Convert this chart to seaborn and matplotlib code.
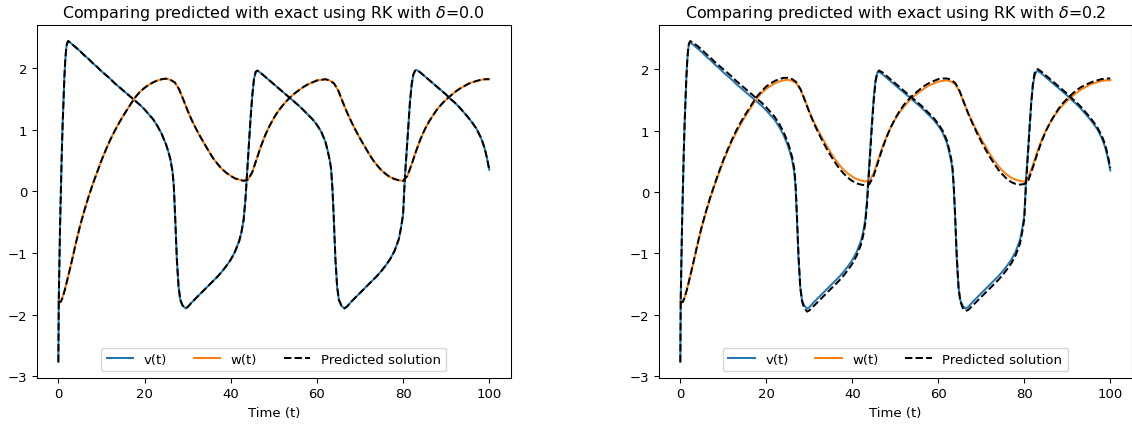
import matplotlib
matplotlib.use("Agg")
import matplotlib.pyplot as plt
import seaborn as sns

# ---------------- data ----------------
t_v = [0, 0.1, 0.25, 0.4, 0.6, 0.8, 1.0, 1.2, 1.4, 1.6, 1.8, 2.0, 2.3,
       3, 4, 5, 6, 7, 8, 9, 10, 11, 12, 13, 14, 15, 16, 17, 18, 19, 20, 21, 22, 23, 24, 25, 25.5, 26, 26.5,
       26.8, 27.1, 27.5, 27.9, 28.3, 28.8, 29.5,
       30, 31, 32, 33, 34, 35, 36, 37, 38, 39, 40, 41, 42, 42.5, 43,
       43.4, 43.8, 44.2, 44.6, 45.0, 45.4, 45.8, 46.2,
       47, 48, 49, 50, 51, 52, 53, 54, 55, 56, 57, 58, 59, 60, 61, 62, 62.5, 63,
       63.3, 63.6, 63.9, 64.3, 64.7, 65.1, 65.7, 66.4,
       67, 68, 69, 70, 71, 72, 73, 74, 75, 76, 77, 78, 79, 79.5, 80,
       80.4, 80.8, 81.2, 81.6, 82.0, 82.4, 82.8, 83.2,
       84, 85, 86, 87, 88, 89, 90, 91, 92, 93, 94, 95, 96, 97, 98, 98.5, 99, 99.5, 100]

v_exact = [-2.77, -1.75, -1.1, -0.55, 0.05, 0.63, 1.1, 1.5, 1.85, 2.12, 2.3, 2.4, 2.44,
           2.40, 2.34, 2.28, 2.21, 2.15, 2.08, 2.02, 1.95, 1.89, 1.83, 1.76, 1.70, 1.64, 1.58, 1.52,
           1.46, 1.40, 1.33, 1.25, 1.17, 1.06, 0.93, 0.76, 0.65, 0.52, 0.32,
           0.08, -0.40, -1.10, -1.55, -1.76, -1.85, -1.90,
           -1.88, -1.80, -1.73, -1.66, -1.59, -1.52, -1.45, -1.38, -1.30, -1.21, -1.11, -0.98, -0.80, -0.66, -0.46,
           -0.15, 0.30, 0.75, 1.18, 1.55, 1.82, 1.94, 1.96,
           1.92, 1.86, 1.80, 1.74, 1.68, 1.62, 1.56, 1.50, 1.44, 1.38, 1.31, 1.24, 1.17, 1.08, 0.97, 0.80, 0.66, 0.50,
           0.36, 0.05, -0.40, -1.10, -1.55, -1.76, -1.86, -1.90,
           -1.87, -1.79, -1.72, -1.65, -1.58, -1.51, -1.44, -1.37, -1.29, -1.20, -1.10, -0.97, -0.78, -0.60, -0.38,
           0.20, 0.62, 1.06, 1.45, 1.74, 1.90, 1.96, 1.97,
           1.93, 1.87, 1.81, 1.75, 1.69, 1.63, 1.57, 1.50, 1.44, 1.37, 1.29, 1.21, 1.12, 1.02, 0.88, 0.79, 0.68, 0.53, 0.35]

v_pred_d02 = [-2.77, -1.75, -1.1, -0.55, 0.05, 0.63, 1.1, 1.5, 1.85, 2.12, 2.31, 2.42, 2.46,
              2.43, 2.38, 2.32, 2.25, 2.19, 2.12, 2.06, 2.00, 1.94, 1.88, 1.81, 1.75, 1.69, 1.63, 1.57,
              1.51, 1.45, 1.38, 1.30, 1.22, 1.11, 0.98, 0.81, 0.70, 0.57, 0.38,
              0.14, -0.33, -1.05, -1.55, -1.78, -1.89, -1.95,
              -1.93, -1.86, -1.79, -1.72, -1.65, -1.58, -1.51, -1.44, -1.36, -1.27, -1.17, -1.04, -0.86, -0.72, -0.52,
              -0.22, 0.22, 0.68, 1.12, 1.50, 1.80, 1.94, 1.98,
              1.95, 1.89, 1.83, 1.77, 1.71, 1.65, 1.59, 1.53, 1.47, 1.41, 1.34, 1.27, 1.20, 1.11, 1.00, 0.84, 0.70, 0.54,
              0.40, 0.10, -0.35, -1.05, -1.55, -1.78, -1.89, -1.94,
              -1.92, -1.85, -1.78, -1.71, -1.64, -1.57, -1.50, -1.43, -1.35, -1.26, -1.16, -1.03, -0.84, -0.66, -0.44,
              0.12, 0.56, 1.02, 1.44, 1.76, 1.94, 2.00, 2.00,
              1.96, 1.90, 1.84, 1.78, 1.72, 1.66, 1.60, 1.53, 1.47, 1.40, 1.32, 1.24, 1.15, 1.05, 0.92, 0.83, 0.72, 0.57, 0.39]

t_w = [0, 0.3, 0.6, 1, 1.5, 2,
       3, 4, 5, 6, 7, 8, 9, 10, 11, 12, 13, 14, 15, 16, 17, 18, 19, 20, 21, 22,
       23, 24, 25, 26, 27, 28, 29, 30, 31, 32, 33, 34, 35, 36, 37, 38, 39, 40, 41, 42,
       43, 44, 45, 46, 47, 48, 49, 50, 51, 52, 53, 54, 55, 56, 57, 58, 59, 60, 61, 62,
       63, 64, 65, 66, 67, 68, 69, 70, 71, 72, 73, 74, 75, 76, 77, 78, 79, 80, 81, 82,
       83, 84, 85, 86, 87, 88, 89, 90, 91, 92, 93, 94, 95, 96, 97, 98, 99, 100]

w_exact = [-1.78, -1.80, -1.79, -1.72, -1.60, -1.46,
           -1.17, -0.86, -0.57, -0.32, -0.09, 0.12, 0.31, 0.50, 0.67, 0.83, 0.97, 1.10, 1.22, 1.33, 1.44, 1.54, 1.62, 1.68, 1.73, 1.77,
           1.80, 1.82, 1.83, 1.81, 1.77, 1.66, 1.49, 1.31, 1.15, 1.01, 0.88, 0.76, 0.64, 0.53, 0.44, 0.36, 0.30, 0.25, 0.21, 0.19,
           0.17, 0.19, 0.31, 0.52, 0.73, 0.91, 1.06, 1.19, 1.30, 1.39, 1.47, 1.54, 1.60, 1.65, 1.70, 1.74, 1.77, 1.80, 1.81, 1.82,
           1.80, 1.75, 1.63, 1.45, 1.28, 1.13, 0.99, 0.86, 0.74, 0.62, 0.51, 0.42, 0.34, 0.28, 0.23, 0.20, 0.18, 0.17, 0.25, 0.44,
           0.65, 0.84, 1.00, 1.13, 1.24, 1.34, 1.42, 1.49, 1.55, 1.61, 1.66, 1.70, 1.74, 1.77, 1.79, 1.81, 1.82, 1.82]

w_pred_d02 = [-1.78, -1.80, -1.79, -1.72, -1.60, -1.46,
              -1.16, -0.85, -0.56, -0.31, -0.08, 0.13, 0.33, 0.52, 0.69, 0.85, 1.00, 1.13, 1.25, 1.36, 1.47, 1.57, 1.65, 1.72, 1.77, 1.81,
              1.84, 1.86, 1.86, 1.84, 1.79, 1.67, 1.49, 1.30, 1.13, 0.98, 0.84, 0.71, 0.59, 0.48, 0.38, 0.30, 0.23, 0.18, 0.14, 0.12,
              0.11, 0.13, 0.27, 0.49, 0.71, 0.90, 1.06, 1.20, 1.32, 1.42, 1.50, 1.57, 1.63, 1.69, 1.74, 1.78, 1.81, 1.84, 1.85, 1.85,
              1.83, 1.77, 1.64, 1.45, 1.27, 1.11, 0.96, 0.82, 0.69, 0.57, 0.46, 0.36, 0.28, 0.21, 0.16, 0.13, 0.12, 0.13, 0.20, 0.40,
              0.62, 0.82, 0.99, 1.13, 1.25, 1.36, 1.45, 1.52, 1.59, 1.65, 1.70, 1.74, 1.77, 1.80, 1.82, 1.84, 1.85, 1.85]

deltas = ["0.0", "0.2"]
labels = ["v(t)", "w(t)", "Predicted solution"]

# predicted solutions per delta (delta = 0.0 coincides with the exact solution)
pred_v = {"0.0": v_exact, "0.2": v_pred_d02}
pred_w = {"0.0": w_exact, "0.2": w_pred_d02}

# ---------------- style (reference looks like a slightly downscaled default figure) ----------------
s = 0.955
plt.rcParams.update({
    "font.size": 10 * s,
    "axes.titlesize": 12 * s,
    "axes.labelsize": 10 * s,
    "xtick.labelsize": 10 * s,
    "ytick.labelsize": 10 * s,
    "legend.fontsize": 10 * s,
    "lines.linewidth": 1.5 * s,
    "axes.linewidth": 0.8 * s,
    "xtick.major.size": 3.5 * s,
    "ytick.major.size": 3.5 * s,
    "xtick.major.width": 0.8 * s,
    "ytick.major.width": 0.8 * s,
    "xtick.major.pad": 3.5 * s,
    "ytick.major.pad": 3.5 * s,
})

# ---------------- figure ----------------
fig = plt.figure(figsize=(11.32, 4.27), dpi=100)
W, H = 1132.0, 427.0
axes_px = [(36.8, 48, 474.0, 353), (658.8, 48, 473.0, 353)]
lw = 1.5 * s

for (x0, y0, w, h), d in zip(axes_px, deltas):
    ax = fig.add_axes([x0 / W, y0 / H, w / W, h / H])
    sns.lineplot(x=t_v, y=v_exact, ax=ax, color="C0", linewidth=lw,
                 label=labels[0], estimator=None, sort=False)
    sns.lineplot(x=t_w, y=w_exact, ax=ax, color="C1", linewidth=lw,
                 label=labels[1], estimator=None, sort=False)
    sns.lineplot(x=t_v, y=pred_v[d], ax=ax, color="black", linestyle="--", linewidth=lw,
                 label=labels[2], estimator=None, sort=False)
    sns.lineplot(x=t_w, y=pred_w[d], ax=ax, color="black", linestyle="--", linewidth=lw,
                 estimator=None, sort=False)
    ax.set_title(r"Comparing predicted with exact using RK with $\delta$=" + d)
    ax.set_xlabel("Time (t)")
    ax.set_ylabel("")
    ax.set_xticks([0, 20, 40, 60, 80, 100])
    ax.set_yticks([-3, -2, -1, 0, 1, 2])
    handles, labs = ax.get_legend_handles_labels()
    ax.legend(handles[:3], labs[:3], loc="lower center", ncol=3)

fig.savefig("out.png", dpi=100)
